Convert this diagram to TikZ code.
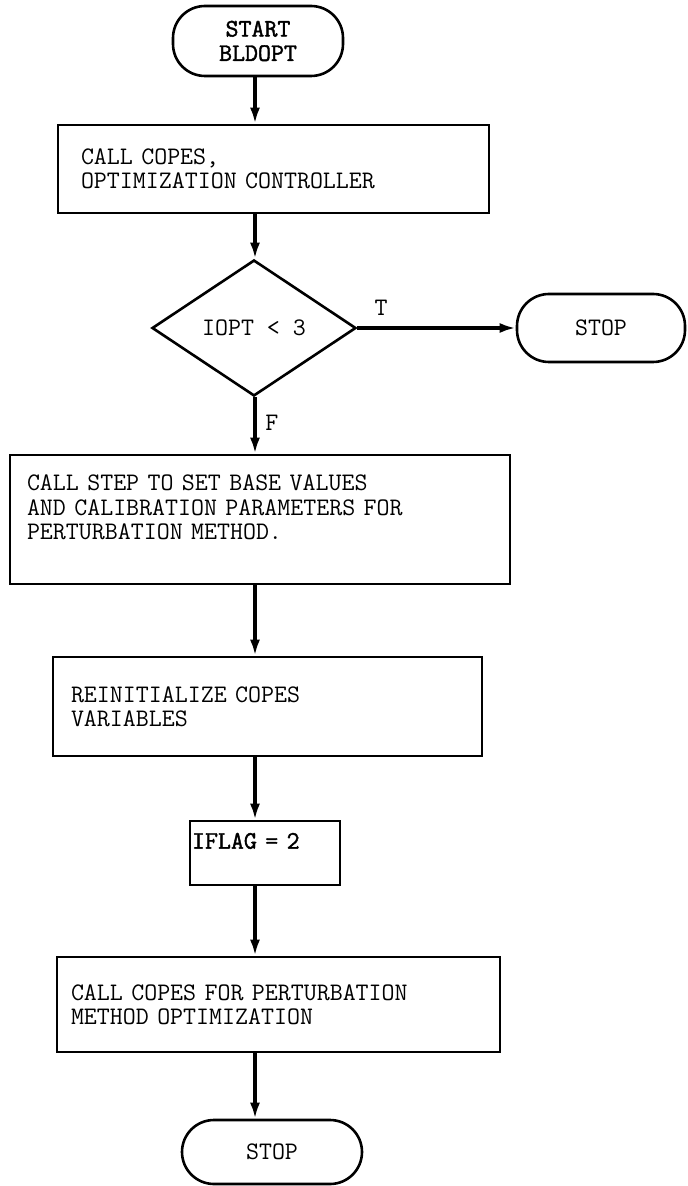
\documentclass[tikz,border=0pt]{standalone}
\usepackage{fontspec}
\setmonofont{Latin Modern Mono}
\newfontfamily\heavytt[FakeBold=1.6]{Latin Modern Mono}
\usetikzlibrary{shapes.geometric,arrows.meta,positioning}

\tikzset{
	chartfont/.style={font=\ttfamily\fontsize{12.6}{12.2}\selectfont},
	procbox/.style={draw,rectangle,line width=1.3pt,align=left,inner ysep=0pt,chartfont},
	termbox/.style={draw,rectangle,line width=1.3pt,rounded corners=16pt,align=center,inner sep=0pt,chartfont},
	testbox/.style={draw,diamond,line width=1.3pt,inner sep=0pt,chartfont},
	flow/.style={line width=1.6pt,-{Latex[length=8pt,width=5pt]}},
}

\begin{document}
\begin{tikzpicture}[x=0.5pt,y=-0.5pt]
		\useasboundingbox (0,0) rectangle (687,1186);
		\coordinate (spine) at (255,0);
		% start and first call
		\node[termbox,minimum width=85pt,minimum height=35pt] (start) at (258,41) {\heavytt START\\\heavytt BLDOPT};
		\node[procbox,text width=192.5pt,inner xsep=11.5pt,minimum height=44pt] (copes) at (273.5,169) {CALL COPES,\\OPTIMIZATION CONTROLLER};
		% test on IOPT
		\node[testbox,minimum width=102pt,minimum height=68pt] (test) at (254,328) {IOPT < 3};
		\node[termbox,minimum width=84pt,minimum height=34pt] (stopt) at (601,328) {STOP};
		% perturbation steps
		\node[procbox,text width=233pt,inner xsep=8.5pt,minimum height=64.5pt] (step) at (260,519.5) {CALL STEP TO SET BASE VALUES\\AND CALIBRATION PARAMETERS FOR\\PERTURBATION METHOD.\\~};
		\node[procbox,text width=196.5pt,inner xsep=9pt,minimum height=49.5pt] (reinit) at (267.5,706.5) {REINITIALIZE COPES\\VARIABLES};
		\node[procbox,text width=73pt,inner xsep=1pt,minimum height=32pt] (iflag) at (265,853) {\heavytt IFLAG = 2\\~};
		\node[procbox,text width=207.5pt,inner xsep=7pt,minimum height=47.5pt] (perturb) at (278.5,1004.5) {CALL COPES FOR PERTURBATION\\METHOD OPTIMIZATION};
		\node[termbox,minimum width=90pt,minimum height=32pt] (stopend) at (272,1152) {STOP};
		% connectors
		\draw[flow] (start.south -| spine) -- (copes.north -| spine);
		\draw[flow] (copes.south -| spine) -- (test.north -| spine);
		\draw[flow] (test.east) -- (test.east -| stopt.west) node[chartfont,pos=0.15,above=2pt] {T};
		\draw[flow] (test.south -| spine) -- (step.north -| spine) node[chartfont,pos=0.45,right=1pt] {F};
		\draw[flow] (step.south -| spine) -- (reinit.north -| spine);
		\draw[flow] (reinit.south -| spine) -- (iflag.north -| spine);
		\draw[flow] (iflag.south -| spine) -- (perturb.north -| spine);
		\draw[flow] (perturb.south -| spine) -- (stopend.north -| spine);
\end{tikzpicture}
\end{document}
